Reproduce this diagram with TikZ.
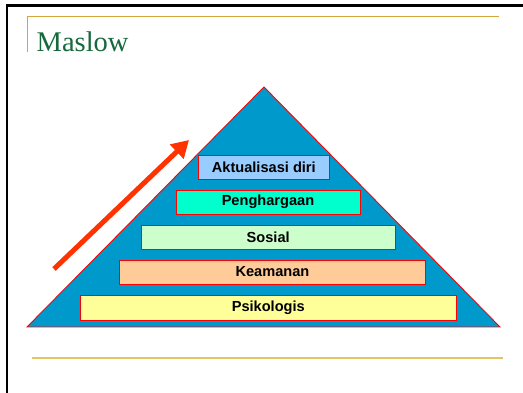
\documentclass[tikz,border=0pt]{standalone}
\usepackage{fontspec}
\setmainfont{Liberation Serif}
\setsansfont{Liberation Sans}
\usetikzlibrary{arrows.meta}
\definecolor{pyr}{HTML}{0099CC}
\definecolor{goldA}{HTML}{D4A640}
\definecolor{goldB}{HTML}{E2C465}
\definecolor{titlegreen}{HTML}{17683C}
\definecolor{arrowc}{HTML}{FF3300}
\definecolor{cAkt}{HTML}{99CCFF}
\definecolor{cPen}{HTML}{00FFCC}
\definecolor{cSos}{HTML}{CCFFCC}
\definecolor{cKea}{HTML}{FFCC99}
\definecolor{cPsi}{HTML}{FFFF99}
\begin{document}
\begin{tikzpicture}[x=1pt,y=-1pt,
  level/.style={draw=red, line width=0.9pt, font=\sffamily\bfseries\fontsize{14.6}{16}\selectfont,
    inner sep=0pt, minimum height=24pt, anchor=center, text=black}]
\useasboundingbox (0,0) rectangle (523,393);
% frame
\draw[line width=2.5pt] (7,394) -- (7,5.5) -- (524,5.5);
% title rules
\draw[goldA, line width=1pt] (27.5,52) -- (27.5,17) -- (499,17);
\draw[goldB, line width=1.6pt] (32,358) -- (503,358);
\node[anchor=base west, inner sep=0pt, text=titlegreen, font=\fontsize{28.5}{30}\selectfont] (title) at (36.5,52) {Maslow};
% pyramid
\coordinate (apex) at (264,87);
\coordinate (bl) at (27,327);
\coordinate (br) at (500,327);
\draw[draw=red, line width=0.9pt, fill=pyr] (apex) -- (br) -- (bl) -- cycle;
% levels
\node[level, fill=cAkt, minimum width=131pt] (akt) at (263.8,167) {Aktualisasi diri};
\node[level, fill=cPen, minimum width=184pt] (pen) at (268,202) {Penghargaan};
\node[level, fill=cSos, minimum width=253.7pt] (sos) at (268.2,237.2) {Sosial};
\node[level, fill=cKea, minimum width=306.4pt] (kea) at (272.5,272) {Keamanan};
\node[level, fill=cPsi, minimum width=376.7pt, minimum height=24.7pt] (psi) at (268.3,307.7) {Psikologis};
% arrow
\coordinate (tail) at (54,269);
\coordinate (tip) at (189,140);
\draw[arrowc, line width=5pt, -{Triangle[length=17pt,width=19pt]}] (tail) -- (tip);
\end{tikzpicture}
\end{document}
